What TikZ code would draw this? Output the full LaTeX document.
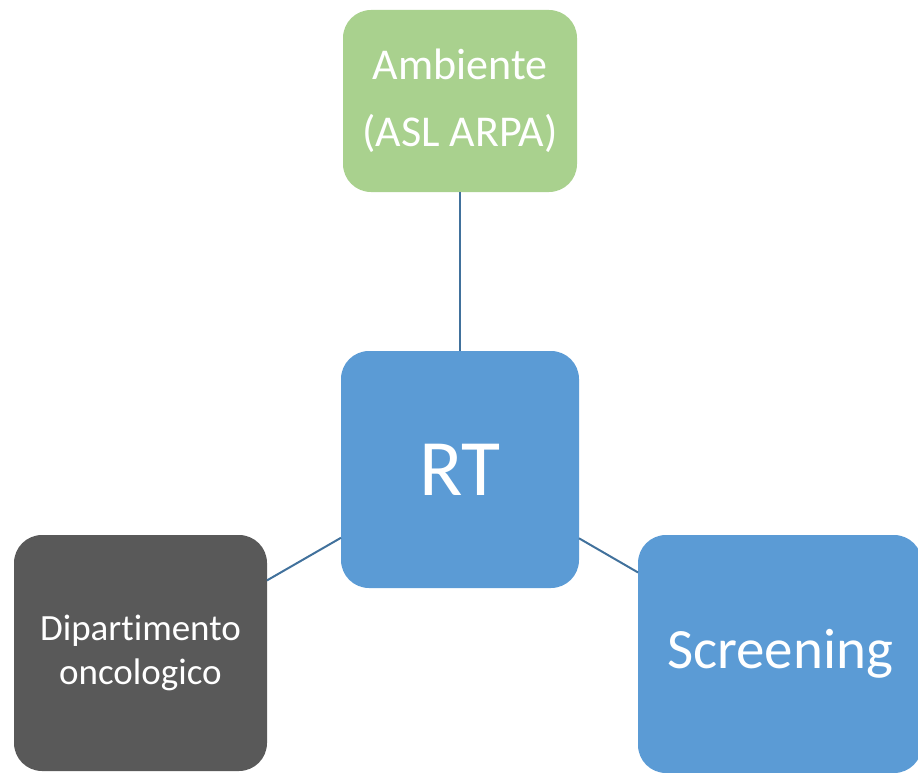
\documentclass[tikz,border=0pt]{standalone}
\usepackage{fontspec}
\setmainfont[Ligatures=NoCommon]{Carlito}
\definecolor{boxgreen}{HTML}{A9D18E}
\definecolor{boxblue}{HTML}{5B9BD5}
\definecolor{boxgrey}{HTML}{595959}
\definecolor{linkblue}{HTML}{41719C}
\tikzset{
  card/.style={rectangle, rounded corners=28pt, inner sep=0pt, outer sep=0pt,
    text=white, align=center},
  link/.style={draw=linkblue, line width=2pt}
}
\begin{document}
\begin{tikzpicture}[x=1pt,y=-1pt]
\useasboundingbox (0,0) rectangle (918,773);
\clip (0,0) rectangle (918,773);
\node[card, fill=boxgreen, minimum width=234pt, minimum height=182pt,
  font=\fontsize{44}{67}\selectfont] (amb) at (460,101) {Ambiente\\(ASL ARPA)};
\node[card, fill=boxblue, minimum width=238pt, minimum height=237pt,
  font=\fontsize{80}{90}\selectfont] (rt) at (460,469.5) {RT};
\node[card, fill=boxgrey, minimum width=253pt, minimum height=236pt,
  font=\fontsize{37}{44}\selectfont] (dip) at (140.5,653) {Dipartimento\\oncologico};
\node[card, fill=boxblue, minimum width=284pt, minimum height=238pt,
  font=\fontsize{57}{64}\selectfont] (scr) at (780,654) {Screening};
\draw[link] (rt) -- (amb);
\draw[link] (rt) -- (dip);
\draw[link] (rt) -- (scr);
\end{tikzpicture}
\end{document}
